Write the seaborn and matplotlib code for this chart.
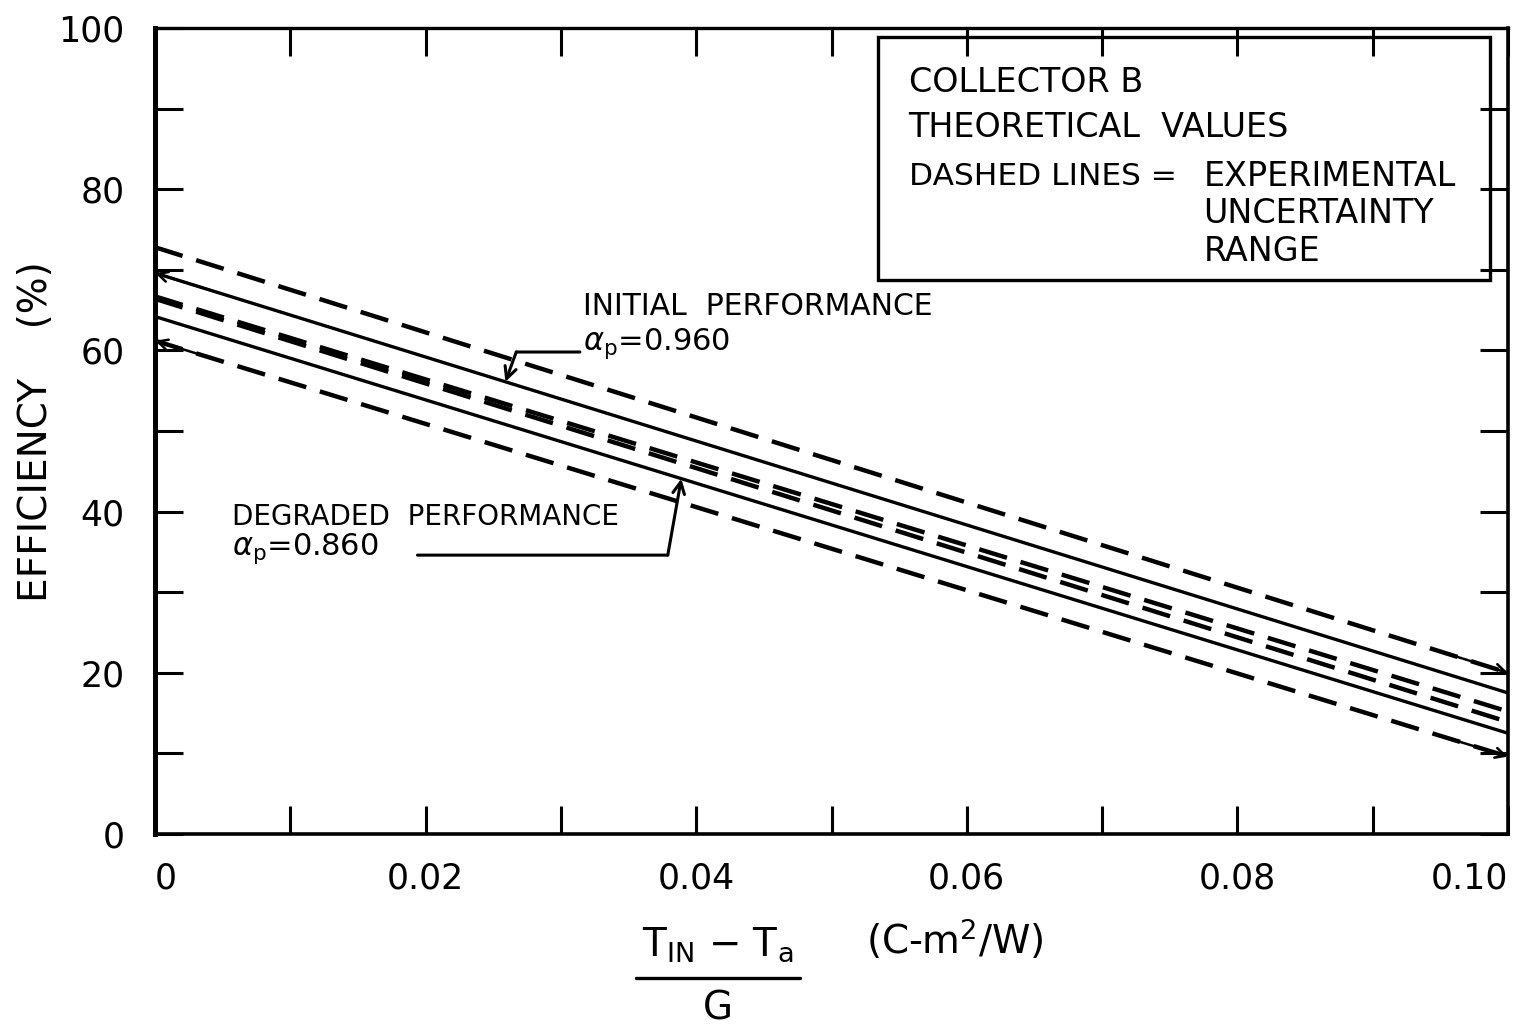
import numpy as np
import pandas as pd
import matplotlib
matplotlib.use("Agg")
import matplotlib.pyplot as plt
from matplotlib.patches import Rectangle
from matplotlib.lines import Line2D
from matplotlib.ticker import MultipleLocator, FixedFormatter, FixedLocator
import seaborn as sns

# (T_in - T_a)/G at the two ends of each straight efficiency line
x_vals = [0.0, 0.10]

# Efficiency (%) at x = 0 and x = 0.10
initial_theory = [69.6, 17.5]
initial_upper = [72.8, 20.0]
initial_lower = [66.7, 15.2]
degraded_theory = [64.2, 12.5]
degraded_upper = [66.4, 13.9]
degraded_lower = [61.2, 9.6]

x_ticks = [0.0, 0.02, 0.04, 0.06, 0.08, 0.10]
x_tick_labels = ["0", "0.02", "0.04", "0.06", "0.08", "0.10"]
y_ticks = [0, 20, 40, 60, 80, 100]
y_tick_labels = ["0", "20", "40", "60", "80", "100"]

sns.set_theme(style="ticks")
plt.rcParams["font.family"] = ["DejaVu Sans"]
plt.rcParams["mathtext.fontset"] = "dejavusans"
plt.rcParams["text.color"] = "black"
plt.rcParams["axes.labelcolor"] = "black"
plt.rcParams["xtick.color"] = "black"
plt.rcParams["ytick.color"] = "black"

fig = plt.figure(figsize=(15.19, 10.27), dpi=100)
fig.patch.set_facecolor("white")
ax = fig.add_axes([155 / 1519, 1 - 834 / 1027, (1508 - 155) / 1519, (834 - 28) / 1027])
ax.set_facecolor("white")

solid_kw = dict(color="black", linewidth=2.4, linestyle="-")
dash_kw = dict(color="black", linewidth=3.2, linestyle=(0, (6.5, 3.2)))

series = [
    (initial_upper, dash_kw),
    (initial_theory, solid_kw),
    (initial_lower, dash_kw),
    (degraded_upper, dash_kw),
    (degraded_theory, solid_kw),
    (degraded_lower, dash_kw),
]
for vals, kw in series:
    df = pd.DataFrame({"x": x_vals, "eff": vals})
    sns.lineplot(data=df, x="x", y="eff", ax=ax, legend=False, **kw)

ax.set_xlim(0, 0.10)
ax.set_ylim(0, 100)

# ticks: every 0.01 / 10 drawn inward on all sides, labels every 0.02 / 20
ax.xaxis.set_major_locator(FixedLocator(x_ticks))
ax.xaxis.set_major_formatter(FixedFormatter(x_tick_labels))
ax.xaxis.set_minor_locator(MultipleLocator(0.01))
ax.yaxis.set_major_locator(FixedLocator(y_ticks))
ax.yaxis.set_major_formatter(FixedFormatter(y_tick_labels))
ax.yaxis.set_minor_locator(MultipleLocator(10))
ax.tick_params(which="both", direction="in", length=20, width=2.2,
               top=True, right=True, color="black")
ax.tick_params(which="major", labelsize=25, labelcolor="black")
ax.tick_params(axis="x", which="major", pad=20)
ax.tick_params(axis="y", which="major", pad=22)

fig.canvas.draw()
xlabels = ax.get_xticklabels()
xlabels[0].set_horizontalalignment("left")
xlabels[-1].set_horizontalalignment("right")

for side in ["left", "bottom", "top", "right"]:
    ax.spines[side].set_visible(True)
    ax.spines[side].set_color("black")
ax.spines["left"].set_linewidth(3.6)
ax.spines["bottom"].set_linewidth(2.6)
ax.spines["top"].set_linewidth(2.4)
ax.spines["right"].set_linewidth(2.6)

ax.set_xlabel("")
ax.set_ylabel("EFFICIENCY    (%)", fontsize=28, color="black")
ax.yaxis.set_label_coords(-0.074, 0.499)

# x-axis label drawn as a fraction
fig.text(718 / 1519, 1 - 945 / 1027, r"T$_{\rm IN}$ $-$ T$_{\rm a}$",
         fontsize=28, ha="center", va="center")
fig.add_artist(Line2D([636 / 1519, 800 / 1519], [1 - 978 / 1027, 1 - 978 / 1027],
                      color="black", linewidth=2.4))
fig.text(718 / 1519, 1 - 1008 / 1027, "G", fontsize=28, ha="center", va="center")
fig.text(955 / 1519, 1 - 940 / 1027, r"(C-m$^2$/W)", fontsize=28,
         ha="center", va="center")

# legend box
ax.add_patch(Rectangle((0.534, 0.687), 0.453, 0.302, transform=ax.transAxes,
                       fill=False, edgecolor="black", linewidth=2.4, zorder=5))
box_font = 24
ax.text(0.557, 0.932, "COLLECTOR B", transform=ax.transAxes, fontsize=box_font,
        va="center", ha="left")
ax.text(0.557, 0.876, "THEORETICAL  VALUES", transform=ax.transAxes, fontsize=box_font,
        va="center", ha="left")
ax.text(0.557, 0.816, "DASHED LINES =", transform=ax.transAxes, fontsize=22.5,
        va="center", ha="left")
ax.text(0.775, 0.816, "EXPERIMENTAL", transform=ax.transAxes, fontsize=box_font,
        va="center", ha="left")
ax.text(0.775, 0.770, "UNCERTAINTY", transform=ax.transAxes, fontsize=box_font,
        va="center", ha="left")
ax.text(0.775, 0.723, "RANGE", transform=ax.transAxes, fontsize=box_font,
        va="center", ha="left")


def on_line(vals, x):
    return vals[0] + (vals[1] - vals[0]) * (x - x_vals[0]) / (x_vals[1] - x_vals[0])


# initial performance label and leader
ax.text(0.0316, 65.4, "INITIAL  PERFORMANCE", fontsize=21.5, ha="left", va="center")
ax.text(0.0316, 60.8, r"$\alpha_{\rm p}$=0.960", fontsize=22, ha="left", va="center")
xi = 0.0259
ax.annotate("", xy=(0.0267, 59.8), xytext=(0.0314, 59.8),
            arrowprops=dict(arrowstyle="-", color="black", lw=2.2, shrinkA=0, shrinkB=0))
ax.annotate("", xy=(xi, on_line(initial_theory, xi)), xytext=(0.0267, 59.8),
            arrowprops=dict(arrowstyle="->,head_length=0.7,head_width=0.35",
                            color="black", lw=2.2, shrinkA=0, shrinkB=0))

# degraded performance label and leader
ax.text(0.0057, 39.3, "DEGRADED  PERFORMANCE", fontsize=20, ha="left", va="center")
ax.text(0.0057, 35.4, r"$\alpha_{\rm p}$=0.860", fontsize=22, ha="left", va="center")
xd = 0.0389
ax.annotate("", xy=(0.0379, 34.6), xytext=(0.0194, 34.6),
            arrowprops=dict(arrowstyle="-", color="black", lw=2.2, shrinkA=0, shrinkB=0))
ax.annotate("", xy=(xd, on_line(degraded_theory, xd)), xytext=(0.0379, 34.6),
            arrowprops=dict(arrowstyle="->,head_length=0.7,head_width=0.35",
                            color="black", lw=2.2, shrinkA=0, shrinkB=0))

# small arrowheads marking line ends at the axes
end_marks = [(initial_theory, 0.0), (degraded_lower, 0.0),
             (initial_upper, 0.10), (degraded_lower, 0.10)]
for vals, xe in end_marks:
    xs = 0.004 if xe == 0.0 else 0.096
    ax.annotate("", xy=(xe, on_line(vals, xe)), xytext=(xs, on_line(vals, xs)),
                arrowprops=dict(arrowstyle="->,head_length=0.6,head_width=0.3",
                                color="black", lw=1.8, shrinkA=0, shrinkB=0),
                annotation_clip=False)

fig.savefig("out.png", dpi=100, facecolor="white")
